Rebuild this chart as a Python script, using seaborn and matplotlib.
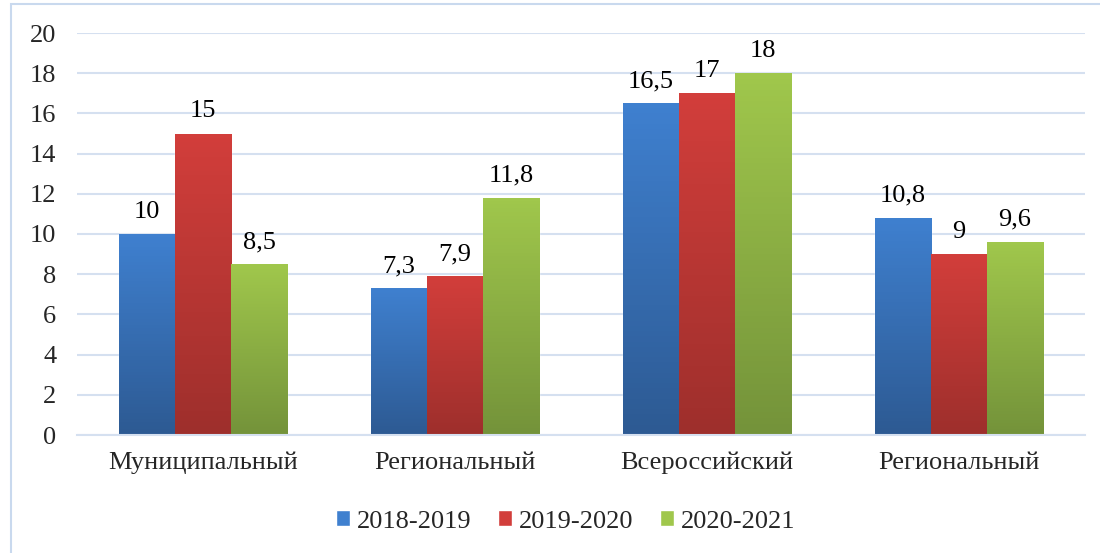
import numpy as np
import pandas as pd
import seaborn as sns
import matplotlib.pyplot as plt
from matplotlib.patches import Rectangle
from matplotlib.colors import to_rgb

# **************************************************************************

categories = ['Муниципальный', 'Региональный', 'Всероссийский', 'Региональный']
years = ['2018-2019', '2019-2020', '2020-2021']
values_2018 = [10, 7.3, 16.5, 10.8]
values_2019 = [15, 7.9, 17, 9]
values_2020 = [8.5, 11.8, 18, 9.6]

top_colors = ['#3f80cf', '#d23e3b', '#a0c74c']
bottom_colors = ['#2d5a93', '#9e2f2c', '#74933a']

# **************************************************************************


def fmt(v):
    return ('%g' % v).replace('.', ',')


def draw_chart():
    sns.set_style('white')
    plt.rcParams['font.family'] = 'serif'
    plt.rcParams['font.serif'] = ['Liberation Serif', 'DejaVu Serif']

    rows = []
    for year, vals in zip(years, [values_2018, values_2019, values_2020]):
        for i, v in enumerate(vals):
            rows.append({'cat': 'c%d' % i, 'year': year, 'value': v})
    df = pd.DataFrame(rows)

    fig = plt.figure(figsize=(11, 5.53), dpi=100)
    fig.patches.append(Rectangle((11 / 1100, -0.1), 1.2, 1 - 4 / 553 + 0.1,
                                 transform=fig.transFigure, fill=False,
                                 edgecolor='#c9d9ee', linewidth=1.5))
    ax = fig.add_axes([77 / 1100, 1 - 435 / 553, 1008 / 1100, 402 / 553])

    sns.barplot(data=df, x='cat', y='value', hue='year', palette=top_colors,
                width=0.667, ax=ax, legend=True, errorbar=None, saturation=1)

    # gradient fill on every bar
    for k, cont in enumerate(ax.containers):
        c_top = np.array(to_rgb(top_colors[k]))
        c_bot = np.array(to_rgb(bottom_colors[k]))
        grad = np.linspace(0, 1, 64)[:, None, None]
        img = c_top * (1 - grad) + c_bot * grad
        for bar in cont:
            x0 = bar.get_x()
            w = bar.get_width()
            h = bar.get_height()
            im = ax.imshow(img, extent=[x0, x0 + w, 0, h], aspect='auto',
                           origin='upper', zorder=2.5)
            im.set_clip_path(bar)
        ax.bar_label(cont, labels=[fmt(v) for v in cont.datavalues],
                     padding=8, fontsize=19, color='black', zorder=4)

    ax.set_xlim(-0.5, 3.5)
    ax.set_ylim(0, 20)
    ax.set_yticks(range(0, 21, 2))
    ax.yaxis.grid(True, color='#d5e0f0', linewidth=1.5)
    ax.set_axisbelow(True)
    for s in ['top', 'right', 'left']:
        ax.spines[s].set_visible(False)
    ax.spines['bottom'].set_color('#d5e0f0')
    ax.spines['bottom'].set_linewidth(1.5)

    ax.set_xticks(range(4))
    ax.set_xticklabels(categories, fontsize=19)
    ax.tick_params(axis='x', length=0, pad=12)
    ax.tick_params(axis='y', length=0, pad=15, labelsize=19)
    ax.set_xlabel('')
    ax.set_ylabel('')

    ax.legend(loc='center', bbox_to_anchor=(0.514, 0.057),
              bbox_transform=fig.transFigure, ncol=3, frameon=False,
              fontsize=19, handlelength=0.55, handleheight=0.55,
              handletextpad=0.25, columnspacing=1.0)

    fig.savefig('out.png', dpi=100)


# **************************************************************************


draw_chart()
